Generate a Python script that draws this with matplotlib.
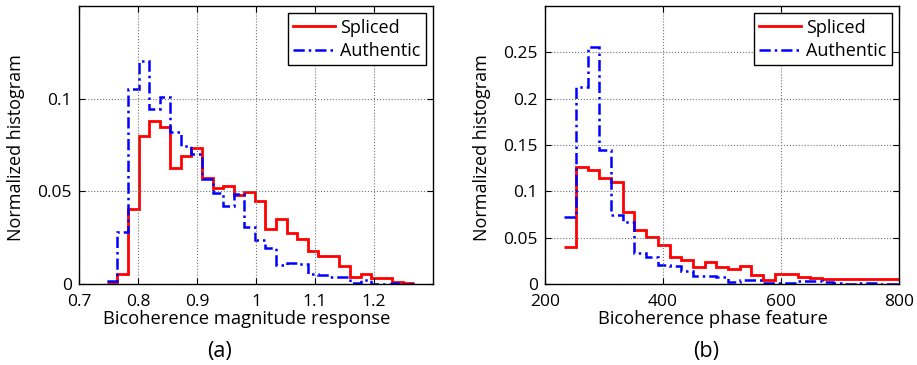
import matplotlib
matplotlib.use("Agg")
import matplotlib.pyplot as plt
import numpy as np

plt.rcParams['font.family'] = ['Open Sans', 'DejaVu Sans']

# (a) bicoherence magnitude response, 29 bins
mag_range = (0.747, 1.267)
mag_spliced = [0.0009, 0.0054, 0.0404, 0.0800, 0.0877, 0.0847, 0.0625, 0.0690,
               0.0736, 0.0572, 0.0516, 0.0527, 0.0482, 0.0495, 0.0450, 0.0296,
               0.0352, 0.0274, 0.0242, 0.0179, 0.0152, 0.0152, 0.0097, 0.0036,
               0.0054, 0.0034, 0.0034, 0.0011, 0.0004]
mag_authentic = [0.0018, 0.0283, 0.1050, 0.1204, 0.0942, 0.1010, 0.0820, 0.0744,
                 0.0704, 0.0567, 0.0490, 0.0422, 0.0487, 0.0310, 0.0238, 0.0193,
                 0.0103, 0.0112, 0.0106, 0.0054, 0.0049, 0.0040, 0.0036, 0.0004,
                 0.0022, 0.0, 0.0, 0.0007, 0.0]

# (b) bicoherence phase feature, 29 bins
phase_range = (232.7, 806.9)
phase_spliced = [0.0397, 0.1264, 0.1227, 0.1144, 0.1101, 0.0773, 0.0585, 0.0505,
                 0.0419, 0.0296, 0.0260, 0.0188, 0.0238, 0.0180, 0.0159, 0.0199,
                 0.0097, 0.0043, 0.0108, 0.0108, 0.0079, 0.0069, 0.0051, 0.0058,
                 0.0058, 0.0058, 0.0051, 0.0058, 0.0058]
phase_authentic = [0.0722, 0.2130, 0.2563, 0.1451, 0.0747, 0.0664, 0.0332, 0.0296,
                   0.0206, 0.0199, 0.0144, 0.0087, 0.0087, 0.0079, 0.0025, 0.0043,
                   0.0043, 0.0007, 0.0014, 0.0011, 0.0036, 0.0036, 0.0025, 0.0014,
                   0.0, 0.0007, 0.0014, 0.0, 0.0]

fig = plt.figure(figsize=(9.17, 3.65), dpi=100)
ax1 = fig.add_axes([0.0862, 0.2219, 0.386, 0.7616])
ax2 = fig.add_axes([0.5943, 0.2219, 0.3864, 0.7616])

dashdot = (0, (4.5, 1.6, 1, 1.6))

def draw_panel(ax, rng, spliced, authentic, xlim, xticks, ylim, yticks, xlabel):
    edges = np.linspace(rng[0], rng[1], len(spliced) + 1)
    ax.stairs(spliced, edges, baseline=None, color='red', lw=2, label='Spliced')
    ax.stairs(authentic, edges, baseline=None, color='blue', lw=1.8,
              linestyle=dashdot, label='Authentic')
    ax.set_xlim(*xlim)
    ax.set_ylim(*ylim)
    ax.set_xticks(xticks)
    ax.set_yticks(yticks)
    ax.set_xticklabels([f'{t:g}' for t in xticks])
    ax.set_yticklabels([f'{t:g}' for t in yticks])
    ax.grid(True, linestyle=':', color='0.45', lw=0.8)
    ax.tick_params(direction='in', top=True, right=True, labelsize=12.5, length=4)
    ax.tick_params(axis='x', pad=7)
    ax.tick_params(axis='y', pad=5)
    for s in ax.spines.values():
        s.set_linewidth(1.0)
    ax.set_ylabel('Normalized histogram', fontsize=13)
    ax.yaxis.set_label_coords(-0.152, 0.49)
    ax.set_xlabel(xlabel, fontsize=13.2)
    ax.xaxis.set_label_coords(0.474, -0.095)
    leg = ax.legend(loc='upper right', fontsize=13, fancybox=False, framealpha=1,
                    edgecolor='black', borderaxespad=0.4, handlelength=2.3,
                    handletextpad=0.3, borderpad=0.3, labelspacing=0.3)
    leg.get_frame().set_linewidth(1.0)

draw_panel(ax1, mag_range, mag_spliced, mag_authentic, (0.7, 1.3),
           [0.7, 0.8, 0.9, 1.0, 1.1, 1.2], (0, 0.15), [0, 0.05, 0.1],
           'Bicoherence magnitude response')
draw_panel(ax2, phase_range, phase_spliced, phase_authentic, (200, 800),
           [200, 400, 600, 800], (0, 0.3), [0, 0.05, 0.1, 0.15, 0.2, 0.25],
           'Bicoherence phase feature')

fig.text(219.5 / 917, 1 - 351 / 365, '(a)', ha='center', va='center', fontsize=15.5)
fig.text(706 / 917, 1 - 351 / 365, '(b)', ha='center', va='center', fontsize=15.5)

fig.savefig('out.png', dpi=100)
